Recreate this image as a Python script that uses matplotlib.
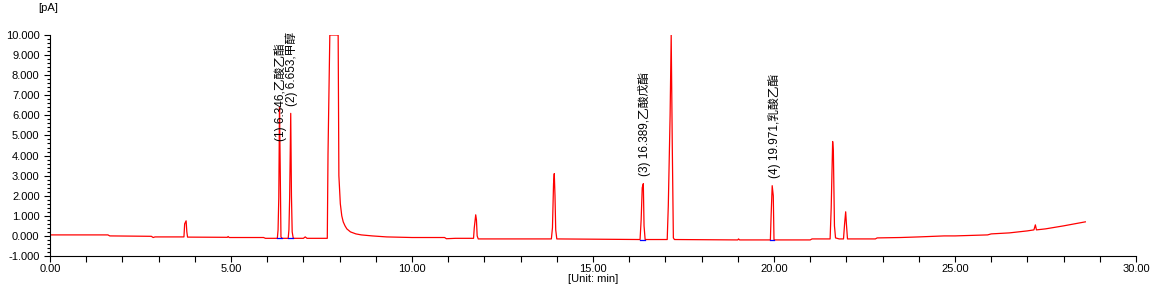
import matplotlib
matplotlib.use("Agg")
import matplotlib.pyplot as plt
from matplotlib.ticker import MultipleLocator, FormatStrFormatter

plt.rcParams['font.family'] = ['Liberation Sans', 'Noto Sans CJK SC', 'DejaVu Sans']

# chromatogram trace, vertices (min, pA)
time = [0.00, 1.60, 1.65, 2.80, 2.85, 2.90, 3.70,
        3.72, 3.76, 3.78, 3.80,
        4.90, 4.92, 4.95, 5.90, 5.95, 6.28,
        6.30, 6.32, 6.34, 6.36, 6.38, 6.41,
        6.58, 6.60, 6.62, 6.65, 6.67, 6.69, 6.72,
        7.00, 7.05, 7.10, 7.66,
        7.68, 7.73, 7.96, 7.98, 8.02, 8.06, 8.10, 8.15, 8.20, 8.30, 8.45, 8.60, 8.90, 9.30,
        10.00, 10.90, 10.95, 11.20, 11.70,
        11.72, 11.76, 11.78, 11.80, 11.83,
        13.85, 13.88, 13.91, 13.93, 13.95, 13.97, 14.00,
        16.30, 16.33, 16.36, 16.39, 16.41, 16.44,
        17.05, 17.08, 17.13, 17.16, 17.19, 17.22, 17.25,
        19.00, 19.02, 19.05, 19.90,
        19.92, 19.95, 19.98, 20.00,
        21.00, 21.05, 21.55,
        21.58, 21.62, 21.64, 21.67, 21.70, 21.80,
        21.92, 21.95, 21.98, 22.00, 22.03,
        22.80, 22.85, 23.50, 24.00, 24.70, 25.00, 25.90, 26.00, 26.50, 27.00,
        27.18, 27.22, 27.25, 27.50, 28.00, 28.30, 28.60]
signal = [0.05, 0.05, 0.00, -0.02, -0.08, -0.05, -0.05,
          0.60, 0.75, 0.20, -0.06,
          -0.07, -0.03, -0.08, -0.08, -0.12, -0.12,
          0.30, 1.90, 6.40, 3.30, -0.05, -0.12,
          -0.12, 0.30, 1.90, 6.10, 2.00, 0.20, -0.12,
          -0.12, -0.05, -0.12, -0.12,
          4.10, 10.00, 10.00, 3.00, 1.60, 1.00, 0.70, 0.50, 0.35, 0.20, 0.10, 0.05, 0.00, -0.05,
          -0.08, -0.08, -0.14, -0.12, -0.12,
          0.40, 1.05, 0.80, 0.00, -0.15,
          -0.15, 0.40, 2.60, 3.10, 2.00, 0.30, -0.15,
          -0.18, 0.80, 2.40, 2.60, 0.50, -0.18,
          -0.18, 1.50, 6.00, 10.00, 4.50, -0.10, -0.18,
          -0.20, -0.15, -0.20, -0.20,
          1.00, 2.50, 2.00, -0.20,
          -0.20, -0.15, -0.15,
          1.40, 4.70, 4.20, 0.50, -0.10, -0.15,
          -0.15, 0.60, 1.20, 0.60, -0.15,
          -0.15, -0.10, -0.08, -0.05, 0.00, 0.00, 0.05, 0.10, 0.15, 0.25,
          0.30, 0.55, 0.30, 0.35, 0.50, 0.60, 0.70]

# identified peaks
peak_rt = [6.346, 6.653, 16.389, 19.971]
peak_names = ["乙酸乙酯", "甲醇", "乙酸戊酯", "乳酸乙酯"]
label_base = [4.7, 6.45, 3.0, 2.9]
# integration baselines (start, end, level)
base_start = [6.28, 6.58, 16.30, 19.90]
base_end = [6.42, 6.72, 16.45, 20.01]
base_level = [-0.12, -0.12, -0.18, -0.20]

fig = plt.figure(figsize=(11.56, 2.89), dpi=100)
ax = fig.add_axes([50 / 1156, 1 - 256 / 289, 1086 / 1156, 221 / 289])

ax.plot(time, signal, color="#ff0000", lw=0.9)
for s, e, lv in zip(base_start, base_end, base_level):
    ax.plot([s, e], [lv, lv], color="#0000ff", lw=0.9)

for i, (rt, name, yb) in enumerate(zip(peak_rt, peak_names, label_base)):
    ax.text(rt + 0.03, yb, f"({i + 1}) {rt:.3f},{name}", rotation=90,
            ha="center", va="bottom", fontsize=8.5, color="black")

ax.set_xlim(0, 30)
ax.set_ylim(-1, 10)
ax.xaxis.set_major_locator(MultipleLocator(5))
ax.xaxis.set_minor_locator(MultipleLocator(1))
ax.yaxis.set_major_locator(MultipleLocator(1))
ax.yaxis.set_minor_locator(MultipleLocator(0.2))
ax.xaxis.set_major_formatter(FormatStrFormatter("%.2f"))
ax.yaxis.set_major_formatter(FormatStrFormatter("%.3f"))
ax.tick_params(axis="both", which="major", length=4, width=0.8, labelsize=8, direction="out")
ax.tick_params(axis="both", which="minor", length=2.5, width=0.8, direction="out")
ax.tick_params(axis="x", which="both", pad=1.5)
ax.tick_params(axis="x", which="minor", length=4)
for sp in ["top", "right"]:
    ax.spines[sp].set_visible(False)
ax.spines["left"].set_linewidth(0.8)
ax.spines["bottom"].set_linewidth(0.8)

ax.set_xlabel("[Unit: min]", fontsize=8, labelpad=0.5)
fig.text(48 / 1156, 1 - 8 / 289, "[pA]", fontsize=8, ha="center", va="center")

fig.savefig("out.png", dpi=100)
